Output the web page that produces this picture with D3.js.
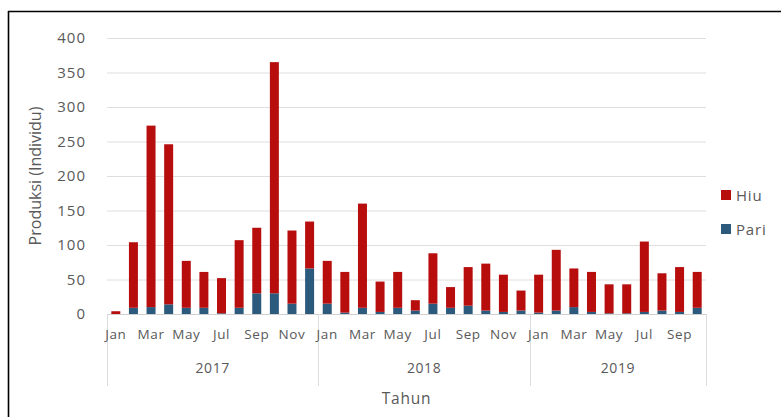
<!DOCTYPE html>
<html>
<head>
<meta charset="utf-8">
<script src="https://cdn.jsdelivr.net/npm/d3@7/dist/d3.min.js"></script>
<style>
  html, body { margin: 0; padding: 0; background: #fff; }
  svg { display: block; font-family: "Open Sans", "Noto Sans", sans-serif; }
</style>
</head>
<body>
<svg id="chart" width="781" height="417"></svg>
<script>
// Monthly production (individuals), Jan 2017 – Oct 2019
const years = ["2017", "2018", "2019"];
const monthsPerYear = [12, 12, 10];
const monthNames = ["Jan","Feb","Mar","Apr","May","Jun","Jul","Aug","Sep","Oct","Nov","Dec"];
const hiu = [
  4, 95, 263, 232, 68, 52, 51, 98, 95, 335, 106, 68,
  62, 59, 151, 44, 52, 15, 73, 30, 56, 68, 54, 29,
  55, 88, 56, 58, 42, 42, 102, 54, 65, 52
];
const pari = [
  0, 9, 10, 14, 9, 9, 1, 9, 30, 30, 15, 66,
  15, 2, 9, 3, 9, 5, 15, 9, 12, 5, 3, 5,
  2, 5, 10, 3, 1, 1, 3, 5, 3, 9
];
const yTicks = [0, 50, 100, 150, 200, 250, 300, 350, 400];
const legendOrder = ["Hiu", "Pari"];
const stackOrder = ["Pari", "Hiu"]; // Pari sits at the base of each bar
const colors = { Hiu: "#b70d0d", Pari: "#2c5a7d" };

// Build rows
const rows = [];
years.forEach((yr, yi) => {
  for (let m = 0; m < monthsPerYear[yi]; m++) {
    rows.push({ key: yr + "-" + m, year: yr, month: monthNames[m], m: m });
  }
});
rows.forEach((r, i) => { r.Hiu = hiu[i]; r.Pari = pari[i]; });

const svg = d3.select("#chart");
const plotLeft = 107, plotRight = 706, plotTop = 38, plotBottom = 314;
const textColor = "#595959";

// Frame (top and left edges)
svg.append("line").attr("x1", 8).attr("x2", 781).attr("y1", 11.5).attr("y2", 11.5)
  .attr("stroke", "#000").attr("stroke-width", 1.6);
svg.append("line").attr("x1", 8.5).attr("x2", 8.5).attr("y1", 11).attr("y2", 417)
  .attr("stroke", "#000").attr("stroke-width", 1.6);

const x = d3.scaleBand().domain(rows.map(r => r.key)).range([plotLeft, plotRight]).paddingInner(0.49).paddingOuter(0.245);
const y = d3.scaleLinear().domain([0, 400]).range([plotBottom, plotTop]);

// Gridlines
svg.append("g").selectAll("line").data(yTicks).join("line")
  .attr("x1", plotLeft).attr("x2", plotRight)
  .attr("y1", d => y(d) + 0.5).attr("y2", d => y(d) + 0.5)
  .attr("stroke", "#dedede").attr("stroke-width", 1);

// Y axis labels
const yAxis = d3.axisLeft(y).tickValues(yTicks).tickSize(0).tickPadding(0);
const yg = svg.append("g").attr("transform", `translate(${plotLeft - 21},0)`).call(yAxis);
yg.select(".domain").remove();
yg.selectAll("text").attr("fill", textColor).style("font-size", "15px")
  .style("letter-spacing", "1px")
  .style("font-family", "'Open Sans', 'Noto Sans', sans-serif");

// Stacked bars
const stack = d3.stack().keys(stackOrder);
const layers = stack(rows);
svg.append("g").selectAll("g").data(layers).join("g")
  .attr("fill", d => colors[d.key])
  .selectAll("rect").data(d => d).join("rect")
  .attr("x", d => x(d.data.key))
  .attr("width", x.bandwidth())
  .attr("y", d => y(d[1]))
  .attr("height", d => Math.max(0, y(d[0]) - y(d[1])));

// Baseline
svg.append("line").attr("x1", plotLeft).attr("x2", plotRight).attr("y1", plotBottom + 0.5).attr("y2", plotBottom + 0.5)
  .attr("stroke", "#d0d0d0");

// Year group separators (drawn beneath the labels)
const bandStep = x.step();
const boundaries = [plotLeft];
let acc = 0;
monthsPerYear.forEach(n => { acc += n; boundaries.push(plotLeft + acc * bandStep); });
svg.append("g").selectAll("line").data(boundaries).join("line")
  .attr("x1", d => Math.round(d) + 0.5).attr("x2", d => Math.round(d) + 0.5)
  .attr("y1", plotBottom).attr("y2", 386)
  .attr("stroke", "#dcdcdc");

// Month labels (every other month)
const xAxis = d3.axisBottom(x).tickSize(0).tickPadding(0)
  .tickFormat(k => { const r = rows.find(d => d.key === k); return r.m % 2 === 0 ? r.month : ""; });
const xg = svg.append("g").attr("transform", `translate(0,${plotBottom + 15})`).call(xAxis);
xg.select(".domain").remove();
xg.selectAll("text").attr("fill", textColor).style("font-size", "13.5px")
  .style("letter-spacing", "0.6px")
  .style("font-family", "'Open Sans', 'Noto Sans', sans-serif");

// Year labels
years.forEach((yr, yi) => {
  const start = boundaries[yi], end = boundaries[yi + 1];
  svg.append("text").attr("x", (start + end) / 2).attr("y", 373)
    .attr("text-anchor", "middle").attr("fill", textColor)
    .style("font-size", "14px").style("letter-spacing", "0.6px").text(yr);
});

// Axis titles
svg.append("text").attr("x", (plotLeft + plotRight) / 2).attr("y", 404)
  .attr("text-anchor", "middle").attr("fill", textColor)
  .style("font-size", "15.5px").style("letter-spacing", "0.8px").text("Tahun");
svg.append("text").attr("transform", `translate(41,${(plotTop + plotBottom) / 2}) rotate(-90)`)
  .attr("text-anchor", "middle").attr("fill", textColor)
  .style("font-size", "16px").text("Produksi (Individu)");

// Legend
const legend = svg.append("g").attr("transform", "translate(721,190)");
legendOrder.forEach((s, i) => {
  const g = legend.append("g").attr("transform", `translate(0,${i * 34})`);
  g.append("rect").attr("width", 10).attr("height", 10).attr("fill", colors[s]);
  g.append("text").attr("x", 15).attr("y", 11).attr("fill", textColor)
    .style("font-size", "15px").style("letter-spacing", "0.8px").text(s);
});
</script>
</body>
</html>
